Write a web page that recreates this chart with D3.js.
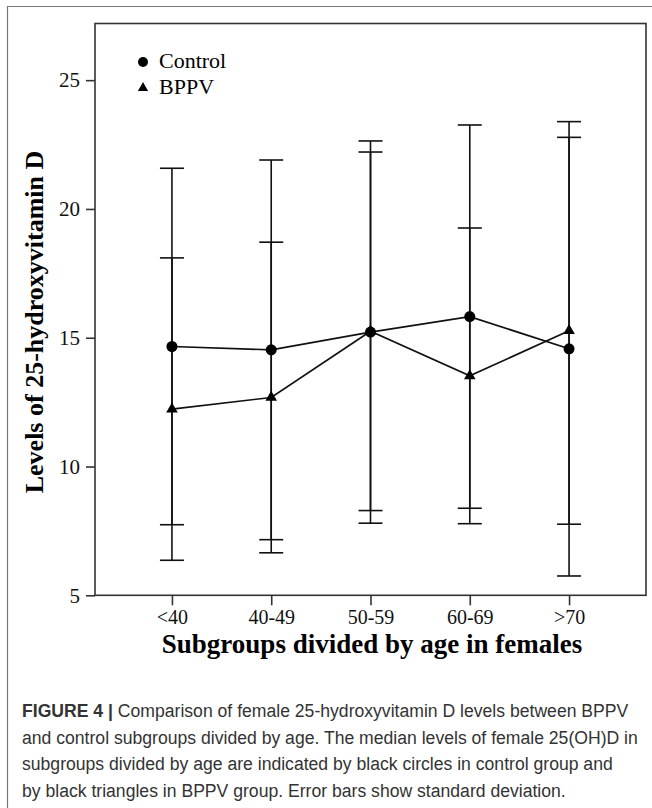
<!DOCTYPE html>
<html>
<head>
<meta charset="utf-8">
<script src="https://cdn.jsdelivr.net/npm/d3@7"></script>
<style>
  body { margin: 0; background: #fff; }
</style>
</head>
<body>
<div id="chart"></div>
<script>
const ageGroups = ['<40', '40-49', '50-59', '60-69', '>70'];
const controlMedian = [14.66, 14.53, 15.22, 15.82, 14.57];
const controlSD = [6.92, 7.37, 7.42, 7.44, 8.82];
const bppvMedian = [12.23, 12.68, 15.25, 13.52, 15.27];
const bppvSD = [5.87, 6.03, 6.96, 5.74, 7.51];
const yTicks = [5, 10, 15, 20, 25];
const captionLines = [
    'Comparison of female 25-hydroxyvitamin D levels between BPPV',
    'and control subgroups divided by age. The median levels of female 25(OH)D in',
    'subgroups divided by age are indicated by black circles in control group and',
    'by black triangles in BPPV group. Error bars show standard deviation.'
];

const width = 652;
const height = 808;
const plot = { left: 95, right: 646, top: 23.5, bottom: 595.3 };
const serif = '"Liberation Serif", "Times New Roman", serif';

const svg = d3.select('#chart')
    .append('svg')
    .attr('width', width)
    .attr('height', height);

svg.append('rect').attr('width', width).attr('height', height).attr('fill', '#fff');

// outer figure frame (top + left edge only visible)
svg.append('path')
    .attr('d', `M7.5,${height} V6.5 H${width}`)
    .attr('fill', 'none')
    .attr('stroke', '#777')
    .attr('stroke-width', 1.2);

const x = d3.scalePoint()
    .domain(ageGroups)
    .range([plot.left, plot.right])
    .padding(0.775);

const y = d3.scaleLinear()
    .domain([5, 27.2])
    .range([plot.bottom, plot.top]);

// plot box
svg.append('rect')
    .attr('x', plot.left)
    .attr('y', plot.top)
    .attr('width', plot.right - plot.left)
    .attr('height', plot.bottom - plot.top)
    .attr('fill', 'none')
    .attr('stroke', '#333')
    .attr('stroke-width', 1.6);

function yAxis(g) {
    g.attr('transform', `translate(${plot.left},0)`)
        .call(d3.axisLeft(y).tickValues(yTicks).tickSize(9).tickPadding(6))
        .call(g => g.select('.domain').remove())
        .attr('font-family', serif)
        .attr('font-size', '21px');
    g.selectAll('line').attr('stroke', '#333').attr('stroke-width', 1.6);
    g.selectAll('text').attr('fill', '#111');
}

function xAxis(g) {
    g.attr('transform', `translate(0,${plot.bottom})`)
        .call(d3.axisBottom(x).tickSize(10).tickPadding(4.5))
        .call(g => g.select('.domain').remove())
        .attr('font-family', serif)
        .attr('font-size', '20px');
    g.selectAll('line').attr('stroke', '#333').attr('stroke-width', 1.6);
    g.selectAll('text').attr('fill', '#111');
}

svg.append('g').call(yAxis);
svg.append('g').call(xAxis);

const series = [
    { name: 'Control', median: controlMedian, sd: controlSD, shape: 'circle' },
    { name: 'BPPV', median: bppvMedian, sd: bppvSD, shape: 'triangle' }
];

const capW = 12;

// error bars
series.forEach(s => {
    const g = svg.append('g').attr('stroke', '#111').attr('stroke-width', 1.6);
    ageGroups.forEach((a, i) => {
        const hi = s.median[i] + s.sd[i];
        const lo = s.median[i] - s.sd[i];
        g.append('line').attr('x1', x(a)).attr('x2', x(a)).attr('y1', y(hi)).attr('y2', y(lo));
        g.append('line').attr('x1', x(a) - capW).attr('x2', x(a) + capW).attr('y1', y(hi)).attr('y2', y(hi));
        g.append('line').attr('x1', x(a) - capW).attr('x2', x(a) + capW).attr('y1', y(lo)).attr('y2', y(lo));
    });
});

const line = d3.line()
    .x((d, i) => x(ageGroups[i]))
    .y(d => y(d));

series.forEach(s => {
    svg.append('path')
        .datum(s.median)
        .attr('d', line)
        .attr('fill', 'none')
        .attr('stroke', '#111')
        .attr('stroke-width', 1.7);
});

const tri = d3.symbol().type(d3.symbolTriangle).size(58);

series.forEach(s => {
    const g = svg.append('g').attr('fill', '#000');
    s.median.forEach((v, i) => {
        if (s.shape === 'circle') {
            g.append('circle').attr('cx', x(ageGroups[i])).attr('cy', y(v)).attr('r', 5.5);
        } else {
            g.append('path').attr('d', tri).attr('transform', `translate(${x(ageGroups[i])},${y(v)})`);
        }
    });
});

// legend
const legend = svg.append('g').attr('font-family', serif).attr('font-size', '22px');
legend.append('circle').attr('cx', 143).attr('cy', 62).attr('r', 5);
legend.append('text').attr('x', 159).attr('y', 68).text('Control');
legend.append('path').attr('d', d3.symbol().type(d3.symbolTriangle).size(45)).attr('transform', 'translate(143,88)');
legend.append('text').attr('x', 159).attr('y', 94).text('BPPV');

// axis titles
svg.append('text')
    .attr('transform', 'translate(43,322) rotate(-90)')
    .attr('text-anchor', 'middle')
    .attr('font-family', serif)
    .attr('font-weight', 'bold')
    .attr('font-size', '26px')
    .text('Levels of 25-hydroxyvitamin D');

svg.append('text')
    .attr('x', 372)
    .attr('y', 653)
    .attr('text-anchor', 'middle')
    .attr('font-family', serif)
    .attr('font-weight', 'bold')
    .attr('font-size', '27px')
    .text('Subgroups divided by age in females');

// caption
const cap = svg.append('g')
    .attr('font-family', '"Liberation Sans", Arial, sans-serif')
    .attr('font-size', '17.6px')
    .attr('fill', '#333');

captionLines.forEach((t, i) => {
    const txt = cap.append('text').attr('x', 22).attr('y', 717 + i * 26.6);
    if (i === 0) {
        txt.append('tspan').attr('font-weight', 'bold').text('FIGURE 4 | ');
    }
    txt.append('tspan').text(t);
});
</script>
</body>
</html>
